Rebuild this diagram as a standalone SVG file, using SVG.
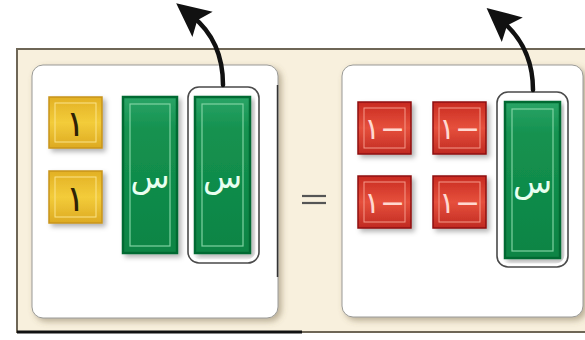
<svg xmlns="http://www.w3.org/2000/svg" width="585" height="340" viewBox="0 0 585 340">
<defs>
<style>
.panel{fill:#ffffff;stroke:#9a9a96;stroke-width:1}
.ytile{fill:url(#yg);stroke:#c8941a;stroke-width:1.5}
.rtile{fill:url(#rg);stroke:#8e1010;stroke-width:1.5}
.gbar{fill:url(#gg);stroke:#066a32;stroke-width:2.5}
.ginner{fill:none;stroke:#7fd2a2;stroke-width:1.2}
.yinner{fill:none;stroke:#fbe48a;stroke-width:1}
.rinner{fill:none;stroke:#f59a8a;stroke-width:1}
.sel{fill:none;stroke:#4a4a4a;stroke-width:1.6}
.selw{fill:none;stroke:#ffffff;stroke-width:3}
.gx{font-family:"DejaVu Sans",sans-serif;font-size:32px;fill:#e8fff0;text-anchor:middle}
.y1{font-family:"DejaVu Sans",sans-serif;font-size:36px;fill:#2e2206;text-anchor:middle}
.r1{font-family:"DejaVu Sans",sans-serif;font-size:30px;fill:#ffd8d0;text-anchor:middle;direction:rtl;unicode-bidi:bidi-override}
.eq{stroke:#555;stroke-width:2.2}
.arr{fill:none;stroke:#111;stroke-width:4.5;stroke-linecap:round}
</style>
<linearGradient id="yg" x1="0" y1="0" x2="0" y2="1">
<stop offset="0" stop-color="#e2b024"/><stop offset="0.5" stop-color="#f3cc3a"/><stop offset="1" stop-color="#ddaa22"/>
</linearGradient>
<linearGradient id="rg" x1="0" y1="0" x2="0" y2="1">
<stop offset="0" stop-color="#c82a20"/><stop offset="0.5" stop-color="#e6503c"/><stop offset="1" stop-color="#c02a22"/>
</linearGradient>
<linearGradient id="gg" x1="0" y1="0" x2="0" y2="1">
<stop offset="0" stop-color="#2aa466"/><stop offset="0.2" stop-color="#159250"/><stop offset="1" stop-color="#0a8444"/>
</linearGradient>
<filter id="sh" x="-20%" y="-20%" width="150%" height="150%">
<feDropShadow dx="3" dy="3" stdDeviation="2.5" flood-color="#000" flood-opacity="0.3"/>
</filter>
<filter id="psh" x="-10%" y="-10%" width="120%" height="120%">
<feDropShadow dx="3" dy="3" stdDeviation="3" flood-color="#6a5a3a" flood-opacity="0.45"/>
</filter>
<marker id="ah" markerWidth="8" markerHeight="8" refX="3" refY="4" orient="auto" markerUnits="strokeWidth">
<path d="M0,0.4 L7.5,4 L0,7.6 L1.5,4 Z" fill="#111"/>
</marker>
</defs>

<g id="frame">
<rect x="17" y="49" width="580" height="283" fill="#f8f0dd" stroke="#6e6656" stroke-width="2"/>
<line x1="17" y1="332" x2="302" y2="332" stroke="#111" stroke-width="3"/>
</g>

<g id="left-panel">
<rect class="panel" x="32" y="65" width="246" height="253" rx="11" filter="url(#psh)"/>
<line x1="277.5" y1="85" x2="277.5" y2="277" stroke="#333" stroke-width="1.5"/>
</g>
<g id="right-panel">
<rect class="panel" x="342" y="65" width="241" height="252" rx="11" filter="url(#psh)"/>
</g>

<g id="tile-y1">
<rect class="ytile" x="49" y="97" width="53" height="51" filter="url(#sh)"/>
<rect class="yinner" x="55" y="103" width="41" height="39"/>
<text class="y1" x="75.5" y="136">١</text>
</g>
<g id="tile-y2">
<rect class="ytile" x="49" y="171" width="53" height="52" filter="url(#sh)"/>
<rect class="yinner" x="55" y="177" width="41" height="40"/>
<text class="y1" x="75.5" y="211">١</text>
</g>

<g id="bar-x1">
<rect class="gbar" x="123" y="97" width="54" height="156" filter="url(#sh)"/>
<rect class="ginner" x="130" y="104" width="40" height="142"/>
<text class="gx" x="150" y="188">س</text>
</g>
<g id="bar-x2">
<rect class="gbar" x="195" y="97" width="55" height="156" filter="url(#sh)"/>
<rect class="ginner" x="202" y="104" width="41" height="142"/>
<text class="gx" x="222.5" y="188">س</text>
<rect class="selw" x="190" y="89" width="67" height="172" rx="10"/>
<rect class="sel" x="188" y="87" width="71" height="176" rx="11"/>
</g>

<g id="equals">
<line class="eq" x1="302" y1="196" x2="326" y2="196"/>
<line class="eq" x1="302" y1="203" x2="326" y2="203"/>
</g>

<g id="tile-r1">
<rect class="rtile" x="358" y="102" width="53" height="52" filter="url(#sh)"/>
<rect class="rinner" x="364" y="108" width="41" height="40"/>
<text class="r1" x="384.5" y="139">−١</text>
</g>
<g id="tile-r2">
<rect class="rtile" x="433" y="102" width="53" height="52" filter="url(#sh)"/>
<rect class="rinner" x="439" y="108" width="41" height="40"/>
<text class="r1" x="459.5" y="139">−١</text>
</g>
<g id="tile-r3">
<rect class="rtile" x="358" y="176" width="53" height="52" filter="url(#sh)"/>
<rect class="rinner" x="364" y="182" width="41" height="40"/>
<text class="r1" x="384.5" y="213">−١</text>
</g>
<g id="tile-r4">
<rect class="rtile" x="433" y="176" width="53" height="52" filter="url(#sh)"/>
<rect class="rinner" x="439" y="182" width="41" height="40"/>
<text class="r1" x="459.5" y="213">−١</text>
</g>

<g id="bar-x3">
<rect class="gbar" x="505" y="102" width="55" height="156" filter="url(#sh)"/>
<rect class="ginner" x="512" y="109" width="41" height="142"/>
<text class="gx" x="532.5" y="193">س</text>
<rect class="selw" x="499" y="94" width="67" height="171" rx="10"/>
<rect class="sel" x="497" y="92" width="71" height="175" rx="11"/>
</g>

<g id="connectors">
<path class="arr" d="M223,85 C223,55 212,32 192,16" marker-end="url(#ah)"/>
<path class="arr" d="M533,90 C533,62 522,38 502,21" marker-end="url(#ah)"/>
</g>
</svg>
